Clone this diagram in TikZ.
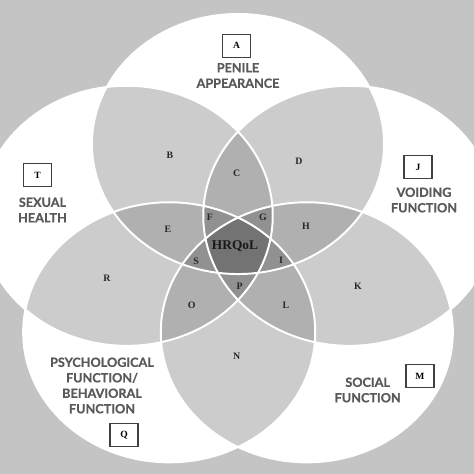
\documentclass[tikz,border=0pt]{standalone}
\usepackage{fontspec}
\newfontfamily\catfont{Lato}[BoldFeatures={FakeBold=0.6}]
\newfontfamily\letfont{Liberation Serif}

\definecolor{bggray}{gray}{0.77}
\definecolor{lvtwo}{gray}{0.80}
\definecolor{lvthree}{gray}{0.69}
\definecolor{lvfour}{gray}{0.57}
\definecolor{lvfive}{gray}{0.45}

\begin{document}
\begin{tikzpicture}[x=0.025cm,y=-0.025cm]

\tikzstyle{ring} = [x radius=3.65cm, y radius=3.25cm];
\tikzstyle{edge} = [draw=white, line width=1.4pt];
\tikzstyle{tag} = [rectangle, draw=black!75, line width=0.8pt, minimum width=0.7cm, minimum height=0.58cm, inner sep=0pt, font=\letfont\bfseries\fontsize{6.8}{7}\selectfont];
\tikzstyle{cat} = [align=center, inner sep=0pt, text=black!65, font=\catfont\bfseries\fontsize{9}{11}\selectfont];
\tikzstyle{zone} = [inner sep=0pt, text=black!85, font=\letfont\bfseries\fontsize{7}{7}\selectfont];

\useasboundingbox (0,0) rectangle (474,474);
\fill[bggray] (0,0) rectangle (474,474);

\coordinate (cA) at (238,144);
\coordinate (cJ) at (349.3,215.8);
\coordinate (cM) at (306.8,332.3);
\coordinate (cQ) at (169.2,332.3);
\coordinate (cT) at (126.7,215.8);

% one circle each, then the overlaps get darker
\foreach \a in {A,J,M,Q,T}
  \fill[white] (c\a) ellipse[ring];

\foreach \a/\b in {A/J,A/M,A/Q,A/T,J/M,J/Q,J/T,M/Q,M/T,Q/T} {
  \begin{scope}
    \clip (c\a) ellipse[ring];
    \fill[lvtwo] (c\b) ellipse[ring];
  \end{scope}
}

\foreach \a/\b/\c in {A/J/M,A/J/Q,A/J/T,A/M/Q,A/M/T,A/Q/T,J/M/Q,J/M/T,J/Q/T,M/Q/T} {
  \begin{scope}
    \clip (c\a) ellipse[ring];
    \clip (c\b) ellipse[ring];
    \fill[lvthree] (c\c) ellipse[ring];
  \end{scope}
}

\foreach \a/\b/\c/\d in {A/J/M/Q,A/J/M/T,A/J/Q/T,A/M/Q/T,J/M/Q/T} {
  \begin{scope}
    \clip (c\a) ellipse[ring];
    \clip (c\b) ellipse[ring];
    \clip (c\c) ellipse[ring];
    \fill[lvfour] (c\d) ellipse[ring];
  \end{scope}
}

\begin{scope}
  \clip (cA) ellipse[ring];
  \clip (cJ) ellipse[ring];
  \clip (cM) ellipse[ring];
  \clip (cQ) ellipse[ring];
  \fill[lvfive] (cT) ellipse[ring];
\end{scope}

\foreach \a in {A,J,M,Q,T}
  \path[edge] (c\a) ellipse[ring];

% domains
\node[tag] at (236.7,45.8) (tA) {A};
\node[cat] at (238,75.5) (nA) {PENILE\\APPEARANCE};

\node[tag] at (418,167) (tJ) {J};
\node[cat] at (424,200) (nJ) {VOIDING\\FUNCTION};

\node[tag] at (420,376) (tM) {M};
\node[cat] at (367.7,390) (nM) {SOCIAL\\FUNCTION};

\node[tag] at (124,435) (tQ) {Q};
\node[cat] at (102,385.5) (nQ) {PSYCHOLOGICAL\\FUNCTION/\\BEHAVIORAL\\FUNCTION};

\node[tag] at (37.6,175) (tT) {T};
\node[cat] at (42.5,210) (nT) {SEXUAL\\HEALTH};

% regions
\node[zone] at (170,155.7) (B) {B};
\node[zone] at (236.7,173.7) (C) {C};
\node[zone] at (299,161.7) (D) {D};
\node[zone] at (168,229) (E) {E};
\node[zone] at (210,217) (F) {F};
\node[zone] at (263,217) (G) {G};
\node[zone] at (306,226) (H) {H};
\node[zone] at (281,260) (I) {I};
\node[zone] at (358,286) (K) {K};
\node[zone] at (286,305) (L) {L};
\node[zone] at (236.7,356) (N) {N};
\node[zone] at (191.7,305) (O) {O};
\node[zone] at (239.7,286) (P) {P};
\node[zone] at (107,278) (R) {R};
\node[zone] at (196,261) (S) {S};
\node[zone, text=black!90, font=\letfont\bfseries\fontsize{9.5}{10}\selectfont] at (235,246) (core) {HRQoL};

\end{tikzpicture}
\end{document}
